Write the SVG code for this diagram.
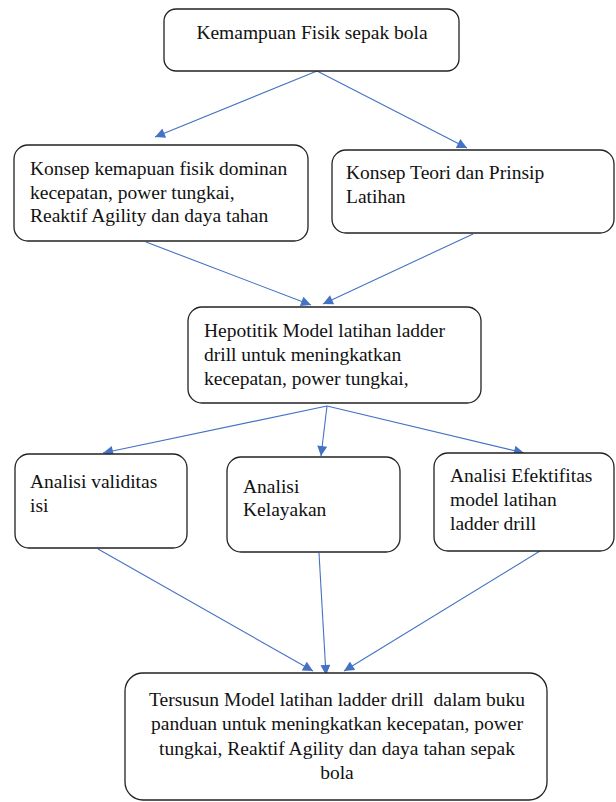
<svg xmlns="http://www.w3.org/2000/svg" width="616" height="802" viewBox="0 0 616 802">
<style>
.box{fill:#fff;stroke:#222;stroke-width:1.3}
.t{font-family:"Liberation Serif","Times New Roman",serif;font-size:19.5px;fill:#111}
.c{text-anchor:middle}
.a{stroke:#4472C4;stroke-width:1.1;fill:none;marker-end:url(#ah)}
</style>
<defs>
<marker id="ah" markerUnits="userSpaceOnUse" markerWidth="11" markerHeight="10" refX="10" refY="5" orient="auto" viewBox="0 0 10 10">
<path d="M0,0 L10,5 L0,10 z" fill="#4472C4"/>
</marker>
</defs>
<rect width="616" height="802" fill="#fff"/>
<g id="connectors">
<line class="a" x1="317" y1="71" x2="155" y2="137"/>
<line class="a" x1="317" y1="71" x2="467" y2="148"/>
<line class="a" x1="146" y1="242" x2="311" y2="305"/>
<line class="a" x1="473" y1="234" x2="323" y2="304"/>
<line class="a" x1="327" y1="406" x2="103" y2="453"/>
<line class="a" x1="327" y1="406" x2="321" y2="456"/>
<line class="a" x1="327" y1="406" x2="524" y2="453"/>
<line class="a" x1="98" y1="549" x2="313" y2="671"/>
<line class="a" x1="319" y1="553" x2="326" y2="675"/>
<line class="a" x1="540" y1="551" x2="344" y2="671"/>
</g>
<g id="n_top">
<rect class="box" x="164" y="9" width="295" height="62" rx="12"/>
<text class="t c" x="312" y="39">Kemampuan Fisik sepak bola</text>
</g>
<g id="n_konsep1">
<rect class="box" x="14" y="145" width="294" height="96" rx="14"/>
<text class="t" x="30" y="175">Konsep kemapuan fisik dominan</text>
<text class="t" x="30" y="198.5">kecepatan, power tungkai,</text>
<text class="t" x="30" y="222">Reaktif Agility dan daya tahan</text>
</g>
<g id="n_konsep2">
<rect class="box" x="332" y="150" width="282" height="83" rx="14"/>
<text class="t" x="346" y="179">Konsep Teori dan Prinsip</text>
<text class="t" x="346" y="203">Latihan</text>
</g>
<g id="n_hipotetik">
<rect class="box" x="188" y="307" width="293" height="96" rx="14"/>
<text class="t" x="204" y="337">Hepotitik Model latihan ladder</text>
<text class="t" x="204" y="361">drill untuk meningkatkan</text>
<text class="t" x="204" y="385">kecepatan, power tungkai,</text>
</g>
<g id="n_validitas">
<rect class="box" x="15" y="454" width="172" height="94" rx="14"/>
<text class="t" x="30" y="488">Analisi validitas</text>
<text class="t" x="30" y="512">isi</text>
</g>
<g id="n_kelayakan">
<rect class="box" x="227" y="457" width="173" height="95" rx="14"/>
<text class="t" x="243" y="493">Analisi</text>
<text class="t" x="243" y="516">Kelayakan</text>
</g>
<g id="n_efektifitas">
<rect class="box" x="434" y="453" width="180" height="98" rx="14"/>
<text class="t" x="450" y="482">Analisi Efektifitas</text>
<text class="t" x="450" y="506">model latihan</text>
<text class="t" x="450" y="530">ladder drill</text>
</g>
<g id="n_hasil">
<rect class="box" x="125" y="673" width="422" height="127" rx="18"/>
<text class="t c" x="337" y="706" xml:space="preserve">Tersusun Model latihan ladder drill  dalam buku</text>
<text class="t c" x="337" y="730">panduan untuk meningkatkan kecepatan, power</text>
<text class="t c" x="337" y="755">tungkai, Reaktif Agility dan daya tahan sepak</text>
<text class="t c" x="337" y="779">bola</text>
</g>
</svg>
